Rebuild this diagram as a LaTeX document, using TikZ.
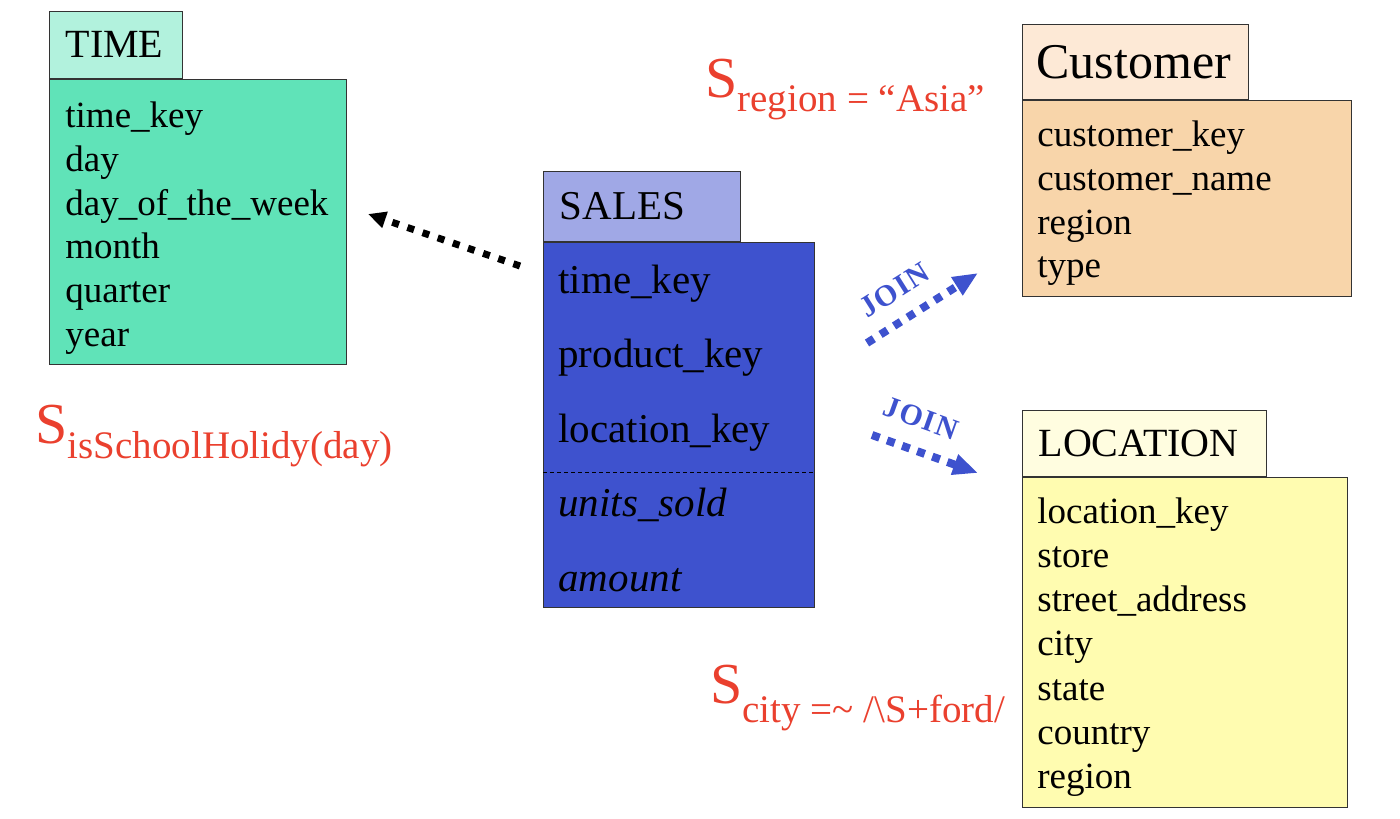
\documentclass[tikz,border=0pt]{standalone}
\usepackage{fontspec}
\setmainfont{Liberation Serif}
\usepackage{xcolor,tikz}
\usetikzlibrary{arrows.meta,calc,positioning}
\tikzset{>=stealth}
\definecolor{timetab}{HTML}{B2F2DD}
\definecolor{timebody}{HTML}{60E3B8}
\definecolor{salestab}{HTML}{A0A8E6}
\definecolor{salesbody}{HTML}{3E52CE}
\definecolor{custtab}{HTML}{FDE9D6}
\definecolor{custbody}{HTML}{F8D5AA}
\definecolor{loctab}{HTML}{FFFDE0}
\definecolor{locbody}{HTML}{FFFCB0}
\definecolor{selred}{HTML}{EA402E}
\definecolor{joinblue}{HTML}{3E52CE}
\newcommand{\selS}[2][7pt]{{\fontsize{29}{30}\selectfont S}\raisebox{-#1}{#2}}

\begin{document}
\begin{tikzpicture}[x=0.5pt,y=-0.5pt,
  box/.style={draw=black!80,line width=0.6pt,anchor=north west,inner sep=0pt},
  tabbox/.style={box,anchor=south west,align=left,inner xsep=8pt,inner ysep=0pt,font=\fontsize{20}{24}\selectfont},
  field/.style={anchor=base west,inner sep=0pt,font=\fontsize{18.5}{22}\selectfont},
  bigfield/.style={field,font=\fontsize{20.5}{24}\selectfont},
  sel/.style={anchor=base west,inner sep=0pt,text=selred,font=\fontsize{19.5}{22}\selectfont},
  blackdots/.style={line width=3.5pt,dash pattern=on 3.5pt off 4.5pt,-{Triangle[length=9pt,width=8pt]}},
  joindots/.style={draw=joinblue,line width=4pt,dash pattern=on 4pt off 4pt,-{Triangle[length=12.5pt,width=10pt]}},
  joinlabel/.style={font=\fontsize{15}{15}\selectfont\bfseries\addfontfeature{LetterSpace=5},text=joinblue,inner sep=1pt}]
\useasboundingbox (0,0) rectangle (1400,818);

% TIME
\node[box,fill=timebody,minimum width=148.5pt,minimum height=142.5pt] (timebody) at (49,79) {};
\node[tabbox,fill=timetab,minimum height=33.5pt,text width=50.5pt] (timetab) at (timebody.north west) {TIME};
\foreach \f [count=\i from 0] in {time\_key,day,day\_of\_the\_week,month,quarter,year} {
\node[field] (time-\i) at (65,128+43.6*\i) {\f};
};

% SALES
\node[box,fill=salesbody,minimum width=135.5pt,minimum height=182.5pt] (salesbody) at (543,242) {};
\node[tabbox,fill=salestab,minimum height=35pt,text width=82.5pt,font=\fontsize{20.5}{24}\selectfont] (salestab) at (salesbody.north west) {SALES};
\foreach \f [count=\i from 0] in {time\_key,product\_key,location\_key,{\itshape units\_sold},{\itshape amount}} {
\node[bigfield] (sales-\i) at (558,293+74.5*\i) {\f};
};
\coordinate (salessep) at (543,472);
\draw[line width=0.5pt,dash pattern=on 2pt off 1.5pt] (salessep) -- (salessep -| salesbody.east);

% Customer
\node[box,fill=custbody,minimum width=164.5pt,minimum height=98pt] (custbody) at (1022,100) {};
\node[tabbox,fill=custtab,minimum height=37.5pt,text width=99pt,inner xsep=7pt,font=\fontsize{25}{28}\selectfont] (custtab) at (custbody.north west) {Customer};
\foreach \f [count=\i from 0] in {customer\_key,customer\_name,region,type} {
\node[field] (cust-\i) at (1037,147+43.6*\i) {\f};
};

% LOCATION
\node[box,fill=locbody,minimum width=162.5pt,minimum height=165pt] (locbody) at (1022,477) {};
\node[tabbox,fill=loctab,minimum height=33pt,text width=106pt] (loctab) at (locbody.north west) {LOCATION};
\foreach \f [count=\i from 0] in {location\_key,store,street\_address,city,state,country,region} {
\node[field] (loc-\i) at (1037,523+44.3*\i) {\f};
};

% selections
\node[sel] (selregion) at (705,98) {\selS[7pt]{region = “Asia”}};
\node[sel] (selholiday) at (35,443) {\selS[7.5pt]{isSchoolHolidy(day)}};
\node[sel] (selcity) at (710,703) {\selS[9.5pt]{city =\textasciitilde{} /\textbackslash S+ford/}};

% arrows
\coordinate (salesout) at (520,266);
\coordinate (timein) at (368,214);
\draw[blackdots] (salesout) -- (timein);

\coordinate (join1a) at (867,343);
\coordinate (join1b) at (978,273);
\draw[joindots] (join1a) -- (join1b) node[pos=0.39,sloped,above=7pt,joinlabel] (join1) {JOIN};
\coordinate (join2a) at (872,435);
\coordinate (join2b) at (978,473);
\draw[joindots] (join2a) -- (join2b) node[pos=0.36,sloped,above=8pt,joinlabel] (join2) {JOIN};
\end{tikzpicture}
\end{document}
